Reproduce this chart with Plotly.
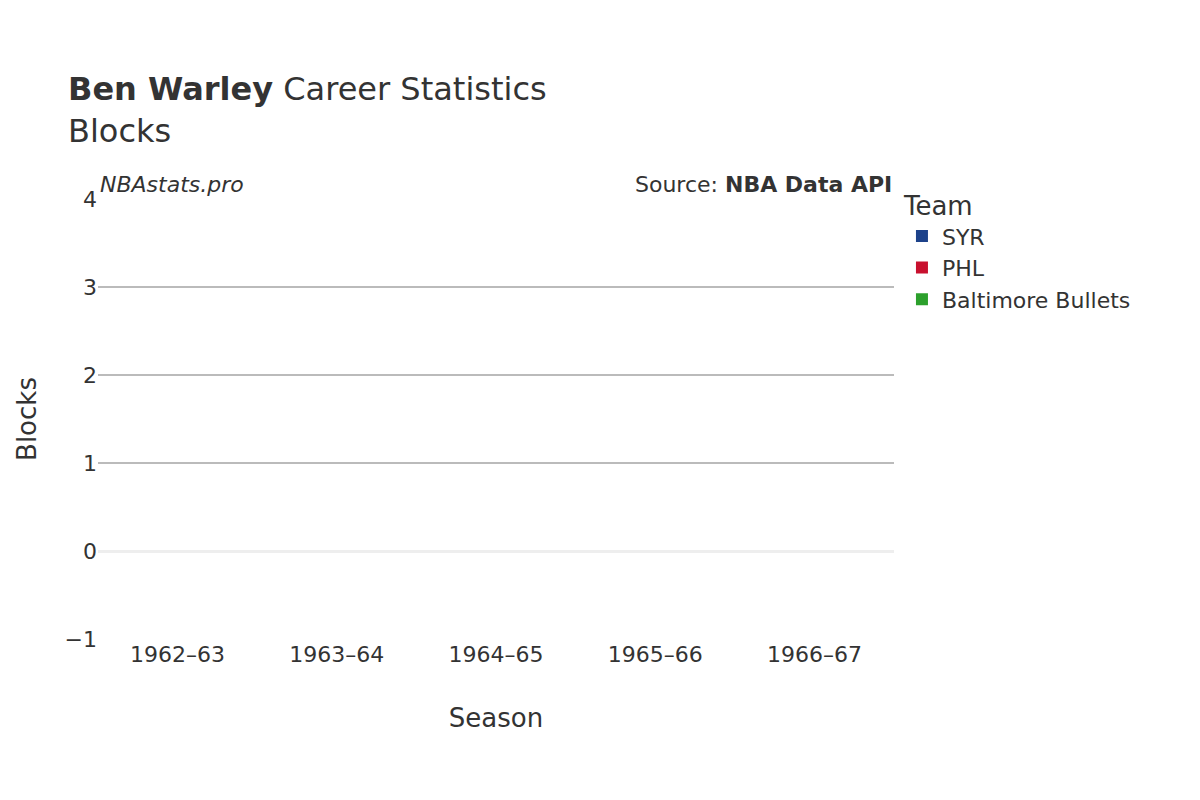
import plotly.graph_objects as go

seasons = ["1962–63", "1963–64", "1964–65", "1965–66", "1966–67"]
teams = ["SYR", "PHL", "Baltimore Bullets"]
team_colors = ["#1d428a", "#c8102e", "#2ca02c"]
team_seasons = [["1962–63"], ["1963–64", "1964–65"], ["1965–66", "1966–67"]]
team_blocks = [[0], [0, 0], [0, 0]]

fig = go.Figure()
for name, color, xs, ys in zip(teams, team_colors, team_seasons, team_blocks):
    fig.add_trace(go.Bar(x=xs, y=ys, name=name, marker_color=color))

fig.update_layout(
    width=1200, height=800,
    template="none",
    font=dict(family="DejaVu Sans", size=20, color="#333"),
    title=dict(text="<b>Ben Warley</b> Career Statistics<br>Blocks", x=0.05, y=0.885,
               xanchor="left", font=dict(size=32)),
    margin=dict(l=90, r=314, t=191, b=169),
    barmode="group",
    legend=dict(title=dict(text="Team", font=dict(size=26)), x=1.01, y=1.04,
                font=dict(size=22), itemsizing="constant", tracegroupgap=8),
    annotations=[
        dict(text="<i>NBAstats.pro</i>", xref="paper", yref="paper", x=0.0, y=1.0,
             yanchor="bottom", showarrow=False, xanchor="left", font=dict(size=22)),
        dict(text="Source: <b>NBA Data API</b>", xref="paper", yref="paper", x=1.0, y=1.0,
             yanchor="bottom", showarrow=False, xanchor="right", font=dict(size=22)),
    ],
)
fig.update_xaxes(title=dict(text="Season", font=dict(size=26)), categoryorder="array",
                 categoryarray=seasons, showgrid=False, ticks="", tickfont=dict(size=22))
fig.update_yaxes(title=dict(text="Blocks", font=dict(size=26)), range=[-1, 4], dtick=1,
                 gridcolor="#bbb", gridwidth=1.5, zeroline=True, zerolinecolor="#eee",
                 zerolinewidth=3, tickfont=dict(size=22))
fig.write_html("out.html")
